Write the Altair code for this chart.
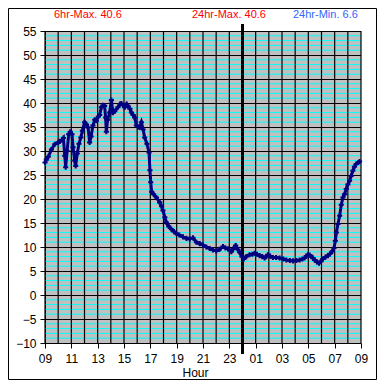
import altair as alt
import pandas as pd

# Hours since 09:00 and temperature readings
hours = [0.00, 0.10, 0.25, 0.49, 0.74, 1.00, 1.12, 1.30, 1.40, 1.50, 1.57, 1.68, 1.80, 1.92,
         2.05, 2.13, 2.25, 2.33, 2.45, 2.58, 2.72, 2.84, 3.01, 3.15, 3.27, 3.39, 3.50, 3.64,
         3.78, 3.90, 4.05, 4.15, 4.28, 4.40, 4.53, 4.60, 4.66, 4.75, 4.91, 5.04, 5.16, 5.30,
         5.54, 5.70, 5.80, 5.95, 6.05, 6.20, 6.30, 6.45, 6.56, 6.70, 6.81, 6.94, 7.05, 7.19,
         7.32, 7.45, 7.57, 7.74, 7.90, 7.97, 8.03, 8.10, 8.25, 8.46, 8.71, 8.85, 8.96, 9.10,
         9.22, 9.40, 9.60, 9.80, 9.98, 10.20, 10.48, 10.75, 10.99, 11.24, 11.50, 11.75, 12.00,
         12.25, 12.51, 12.75, 13.01, 13.25, 13.52, 13.70, 13.90, 14.15, 14.30, 14.48, 14.65,
         14.78, 14.95, 15.09, 15.29, 15.54, 15.75, 15.92, 16.10, 16.30, 16.50, 16.68, 16.80,
         16.93, 17.10, 17.31, 17.55, 17.82, 18.10, 18.33, 18.60, 18.83, 19.10, 19.34, 19.55,
         19.72, 19.85, 19.97, 20.10, 20.23, 20.35, 20.48, 20.65, 20.81, 20.95, 21.11, 21.30,
         21.49, 21.65, 21.82, 21.95, 22.05, 22.13, 22.25, 22.38, 22.50, 22.63, 22.75, 22.88,
         23.00, 23.13, 23.25, 23.38, 23.50, 23.64, 23.80, 23.89]
temps = [27.6, 28.2, 28.8, 30.3, 31.4, 31.8, 32.0, 32.3, 32.7, 29.0, 26.6, 30.0, 33.5, 34.0,
         33.5, 30.8, 28.0, 26.9, 29.5, 31.5, 32.8, 34.2, 36.0, 35.5, 34.9, 31.8, 33.0, 35.3,
         36.5, 36.3, 37.2, 37.5, 39.1, 39.5, 39.4, 37.0, 34.0, 36.5, 38.0, 40.6, 38.0, 38.3,
         39.1, 39.8, 39.9, 39.5, 39.1, 39.8, 39.4, 38.8, 38.0, 37.5, 37.0, 35.3, 35.0, 34.9,
         36.0, 34.5, 32.8, 31.5, 29.7, 26.0, 23.5, 21.5, 21.0, 20.3, 19.3, 18.5, 17.6, 16.2,
         15.1, 14.3, 13.7, 13.2, 12.8, 12.5, 12.1, 11.8, 11.7, 11.9, 11.0, 10.7, 10.4,
         10.0, 9.7, 9.4, 9.2, 9.5, 10.1, 9.8, 9.6, 9.0, 9.6, 10.3, 9.5,
         8.9, 8.0, 7.5, 8.0, 8.4, 8.5, 8.7, 8.5, 8.2, 8.0, 7.7, 8.0,
         8.4, 8.1, 7.8, 7.8, 7.7, 7.5, 7.3, 7.2, 7.1, 7.2, 7.3, 7.5,
         7.7, 8.1, 8.4, 8.3, 8.0, 7.7, 7.3, 6.9, 6.6, 7.0, 7.5, 7.9,
         8.2, 8.6, 9.1, 9.8, 11.3, 13.0, 14.8, 16.5, 18.8, 20.3, 21.0, 22.1,
         23.0, 23.8, 24.8, 25.9, 26.7, 27.3, 27.6, 27.8]

y_major = list(range(-10, 56, 5))
y_minor = [v for v in range(-9, 55) if v % 5 != 0]
x_hours = list(range(0, 25))
x_ticks = list(range(0, 25, 2))
midnight = [15]
header_texts = ["6hr-Max. 40.6", "24hr-Max. 40.6", "24hr-Min. 6.6"]

W, H = 316, 312
FONT = "Liberation Sans"

xs = alt.Scale(domain=[0, 24], nice=False, zero=False)
ys = alt.Scale(domain=[-10, 55], nice=False, zero=False)

yaxis = alt.Axis(values=y_major, title=None, grid=False, tickSize=5,
                 tickColor="black", domainColor="black", labelColor="black",
                 labelFont=FONT, labelFontSize=12, labelPadding=4,
                 labelFlush=False, labelOverlap=False)
xaxis = alt.Axis(values=x_ticks, title="Hour", grid=False, tickSize=5,
                 tickColor="black", domainColor="black", labelColor="black",
                 labelFont=FONT, labelFontSize=12, labelPadding=5,
                 labelFlush=False, labelOverlap=False,
                 labelExpr="((datum.value + 9) % 24 < 10 ? '0' : '') + ((datum.value + 9) % 24)",
                 titleFont=FONT, titleFontSize=12, titleFontWeight="normal",
                 titleColor="black", titlePadding=3, titleX=150)

df = pd.DataFrame({"h": hours, "t": temps})

minor = alt.Chart(pd.DataFrame({"v": y_minor})).mark_rule(
    color="#00FFFF", strokeWidth=1
).encode(y=alt.Y("v:Q", scale=ys, axis=yaxis))

major = alt.Chart(pd.DataFrame({"v": y_major})).mark_rule(
    color="black", strokeWidth=1, yOffset=0.5
).encode(y=alt.Y("v:Q", scale=ys, axis=yaxis))

vert = alt.Chart(pd.DataFrame({"h": x_hours})).mark_rule(
    color="black", strokeWidth=1.2
).encode(x=alt.X("h:Q", scale=xs, axis=xaxis))

mid = alt.Chart(pd.DataFrame({"h": midnight})).mark_rule(
    color="black", strokeWidth=3
).encode(
    x=alt.X("h:Q", scale=xs, axis=xaxis),
    y=alt.value(-7), y2=alt.value(H + 11)
)

line = alt.Chart(df).mark_line(color="#000080", strokeWidth=3).encode(
    x=alt.X("h:Q", scale=xs, axis=xaxis),
    y=alt.Y("t:Q", scale=ys, axis=yaxis),
)
pts = alt.Chart(df).mark_point(shape="cross", filled=True, color="#000080", size=26, opacity=1).encode(
    x=alt.X("h:Q", scale=xs, axis=xaxis),
    y=alt.Y("t:Q", scale=ys, axis=yaxis),
)

hdr_df = pd.DataFrame({"label": header_texts})
def header(i, xpos, color):
    return alt.Chart(hdr_df).transform_filter(
        alt.datum.label == header_texts[i]
    ).mark_text(align="left", baseline="middle", font=FONT, fontSize=11, color=color).encode(
        text="label:N", x=alt.value(xpos), y=alt.value(-16)
    )

hdrs = header(0, 9, "#FF0000") + header(1, 147, "#FF0000") + header(2, 248, "#3366FF")

frame = alt.Chart(hdr_df.head(1)).mark_rect(fill=None, stroke="black", strokeWidth=1).encode(
    x=alt.value(-36.5), x2=alt.value(W + 15.5), y=alt.value(-22.5), y2=alt.value(H + 36.5)
)

chart = alt.layer(minor, major, vert, mid, line, pts, hdrs, frame).properties(
    width=W, height=H,
    autosize=alt.AutoSizeParams(type="none"),
    padding={"left": 37, "top": 23, "right": 16, "bottom": 37},
    background="white",
).configure_view(fill="#C0C0C0", stroke=None)

chart.save("out.html", embed_options={"renderer": "svg", "actions": False})
